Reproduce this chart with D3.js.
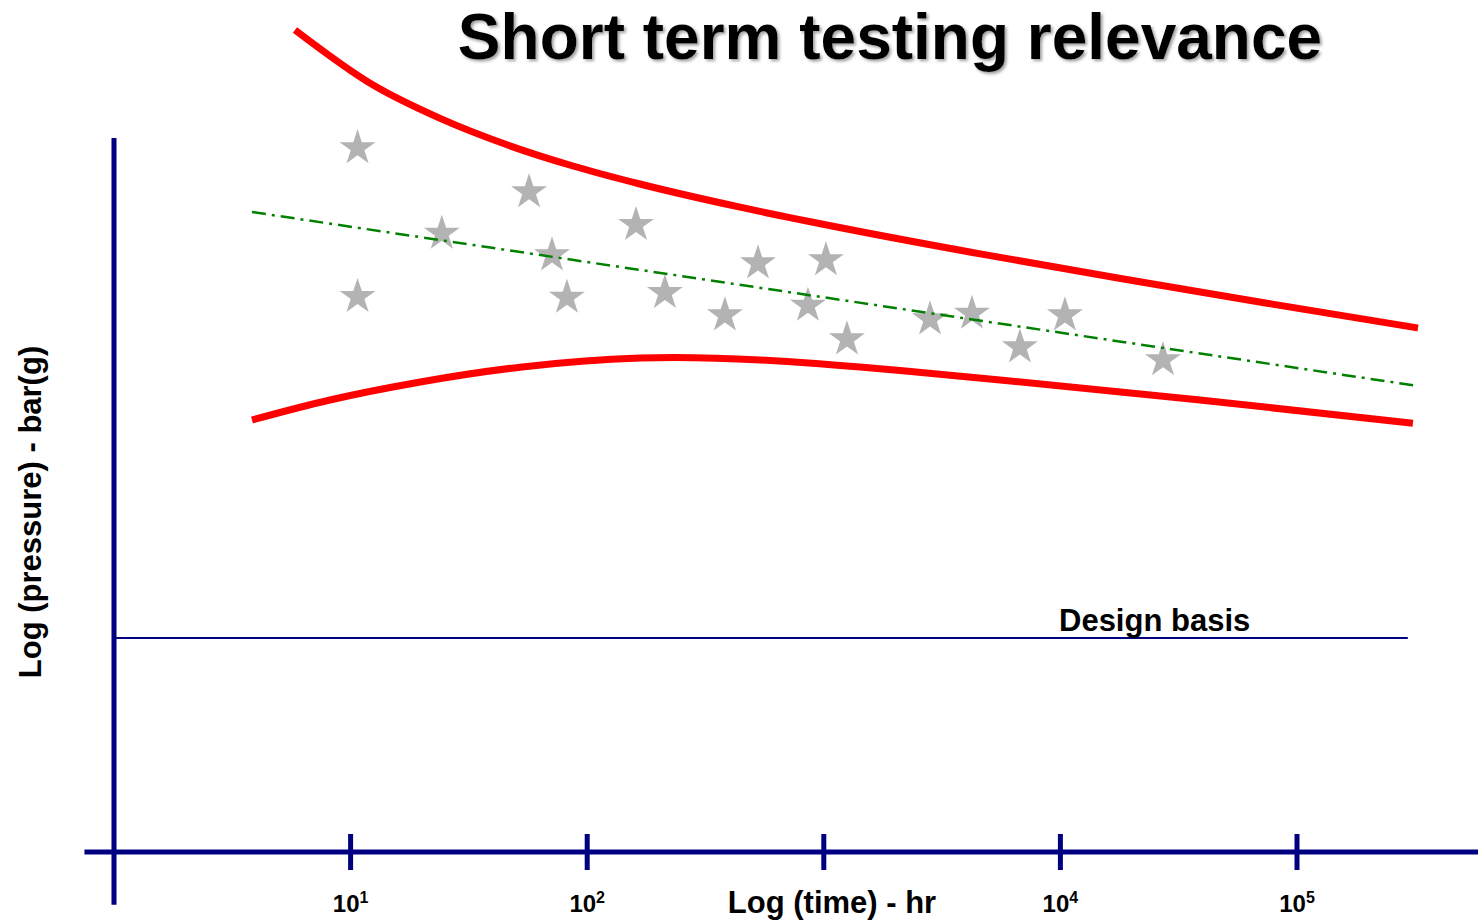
<!DOCTYPE html>
<html>
<head>
<meta charset="utf-8">
<script src="https://cdn.jsdelivr.net/npm/d3@7"></script>
<style>
  body { margin: 0; background: #fff; }
  svg { display: block; font-family: "Liberation Sans", Arial, sans-serif; }
</style>
</head>
<body>
<div id="chart"></div>
<script>
// scattered short term test results (time in hr, log pressure in arbitrary units)
let testTime = [10.7, 10.7, 24.3, 56.8, 71.0, 82.1, 160.8, 213, 382, 527, 857, 1021, 1253, 2812, 4229, 6745, 10450, 27150];
let testPressure = [88.0, 69.4, 77.3, 82.5, 74.6, 69.3, 78.4, 69.9, 67.1, 73.6, 68.3, 74.0, 64.1, 66.6, 67.3, 63.1, 67.1, 61.5];

// upper / lower confidence bands
let upperTime = [5.82, 12.4, 23.9, 45.8, 87.1, 167, 443, 1194, 4710, 18750, 74650, 324600];
let upperPressure = [102.75, 95.9, 91.7, 88.4, 85.75, 83.5, 80.6, 78.0, 74.7, 71.6, 68.6, 65.5];
let lowerTime = [3.83, 8.18, 19.7, 52.0, 167, 537, 1728, 5560, 38900, 309000];
let lowerPressure = [54.0, 56.5, 58.75, 60.6, 61.75, 61.5, 60.4, 59.0, 56.5, 53.6];

// mean trend line
let trendTime = [3.83, 324600];
let trendPressure = [80.0, 58.25];

// design basis
let designTime = [1, 294000];
let designPressure = 26.75;

let tickValues = [10, 100, 1000, 10000, 100000];
let tickExponents = ["1", "2", "", "4", "5"];
let xAxisExtent = [0.75, 600000];
let yAxisExtent = [-6.6, 89.25];

let width = 1478, height = 923;
let navy = "#000080";

let svg = d3.select("#chart")
    .append("svg")
    .attr("width", width)
    .attr("height", height);

let x = d3.scaleLog()
    .domain([1, 100000])
    .range([114, 1297]);

let y = d3.scaleLinear()
    .domain([0, 100])
    .range([852, 52]);

// title with soft shadow
let defs = svg.append("defs");
let shadow = defs.append("filter").attr("id", "shadow")
    .attr("x", "-5%").attr("y", "-20%").attr("width", "110%").attr("height", "150%");
shadow.append("feDropShadow")
    .attr("dx", 2).attr("dy", 2)
    .attr("stdDeviation", 1.5)
    .attr("flood-color", "#777")
    .attr("flood-opacity", 0.7);

svg.append("text")
    .attr("x", 890)
    .attr("y", 59)
    .attr("text-anchor", "middle")
    .attr("font-size", 64)
    .attr("font-weight", "bold")
    .attr("filter", "url(#shadow)")
    .text("Short term testing relevance");

// design basis line
svg.append("line")
    .attr("x1", x(designTime[0]))
    .attr("x2", x(designTime[1]))
    .attr("y1", y(designPressure))
    .attr("y2", y(designPressure))
    .attr("stroke", navy)
    .attr("stroke-width", 2);

svg.append("text")
    .attr("x", 1059)
    .attr("y", 631)
    .attr("font-size", 31)
    .attr("font-weight", "bold")
    .text("Design basis");

// axes
svg.append("line")
    .attr("x1", x(xAxisExtent[0]))
    .attr("x2", x(xAxisExtent[1]))
    .attr("y1", y(0))
    .attr("y2", y(0))
    .attr("stroke", navy)
    .attr("stroke-width", 5);

svg.append("line")
    .attr("x1", x(1))
    .attr("x2", x(1))
    .attr("y1", y(yAxisExtent[0]))
    .attr("y2", y(yAxisExtent[1]))
    .attr("stroke", navy)
    .attr("stroke-width", 5);

svg.selectAll(".tick")
    .data(tickValues)
    .enter()
    .append("line")
    .attr("class", "tick")
    .attr("x1", d => x(d))
    .attr("x2", d => x(d))
    .attr("y1", y(0) - 18)
    .attr("y2", y(0) + 18)
    .attr("stroke", navy)
    .attr("stroke-width", 5);

let labels = svg.selectAll(".tick-label")
    .data(tickValues.map((d, i) => ({v: d, e: tickExponents[i]})).filter(d => d.e !== ""))
    .enter()
    .append("text")
    .attr("class", "tick-label")
    .attr("x", d => x(d.v))
    .attr("y", 912)
    .attr("text-anchor", "middle")
    .attr("font-size", 24)
    .attr("font-weight", "bold");
labels.append("tspan").text("10");
labels.append("tspan")
    .attr("font-size", 16)
    .attr("dy", -9)
    .text(d => d.e);

svg.append("text")
    .attr("x", 832)
    .attr("y", 913)
    .attr("text-anchor", "middle")
    .attr("font-size", 31)
    .attr("font-weight", "bold")
    .text("Log (time) - hr");

svg.append("text")
    .attr("transform", "translate(41,512) rotate(-90)")
    .attr("text-anchor", "middle")
    .attr("font-size", 31)
    .attr("font-weight", "bold")
    .text("Log (pressure) - bar(g)");

// bands
let upperLine = d3.line()
    .x(d => x(d[0]))
    .y(d => y(d[1]))
    .curve(d3.curveMonotoneX);

let lowerLine = d3.line()
    .x(d => x(d[0]))
    .y(d => y(d[1]))
    .curve(d3.curveNatural);

svg.append("path")
    .datum(upperTime.map((t, i) => [t, upperPressure[i]]))
    .attr("d", upperLine)
    .attr("fill", "none")
    .attr("stroke", "#ff0000")
    .attr("stroke-width", 7);

svg.append("path")
    .datum(lowerTime.map((t, i) => [t, lowerPressure[i]]))
    .attr("d", lowerLine)
    .attr("fill", "none")
    .attr("stroke", "#ff0000")
    .attr("stroke-width", 7);

// stars
svg.selectAll(".star")
    .data(testTime.map((t, i) => [t, testPressure[i]]))
    .enter()
    .append("path")
    .attr("class", "star")
    .attr("d", d3.symbol(d3.symbolStar, 400))
    .attr("transform", d => "translate(" + x(d[0]) + "," + y(d[1]) + ")")
    .attr("fill", "#b3b3b3");

// trend
svg.append("path")
    .datum(trendTime.map((t, i) => [t, trendPressure[i]]))
    .attr("d", d3.line().x(d => x(d[0])).y(d => y(d[1])))
    .attr("fill", "none")
    .attr("stroke", "#008000")
    .attr("stroke-width", 2.5)
    .attr("stroke-dasharray", "14,6,3,6");
</script>
</body>
</html>
